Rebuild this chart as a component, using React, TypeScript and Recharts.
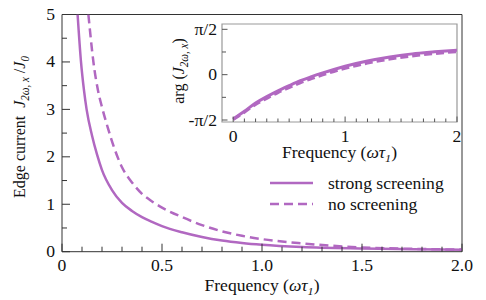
import React from 'react';
import { LineChart, Line, XAxis, YAxis, ReferenceArea } from 'recharts';

// main panel: edge current vs frequency
const strongX = [0.078, 0.095, 0.11, 0.123, 0.15, 0.175, 0.2, 0.25, 0.3, 0.35, 0.4, 0.45, 0.5, 0.6, 0.7, 0.8, 0.9, 1.0, 1.2, 1.5, 1.75, 2.0];
const strongY = [5.0, 4.0, 3.4, 3.0, 2.45, 2.05, 1.72, 1.3, 1.03, 0.86, 0.73, 0.63, 0.54, 0.41, 0.31, 0.235, 0.183, 0.145, 0.097, 0.066, 0.051, 0.041];
const noScrX = [0.132, 0.145, 0.157, 0.18, 0.203, 0.23, 0.26, 0.3, 0.35, 0.4, 0.45, 0.5, 0.6, 0.7, 0.8, 0.9, 1.0, 1.2, 1.35, 1.5, 1.75, 2.0];
const noScrY = [5.0, 4.45, 4.0, 3.4, 3.0, 2.6, 2.2, 1.78, 1.46, 1.22, 1.06, 0.93, 0.73, 0.56, 0.43, 0.335, 0.265, 0.175, 0.125, 0.09, 0.06, 0.045];

// inset: phase arg(J) vs frequency
const phaseX = [0, 0.1, 0.2, 0.3, 0.4, 0.5, 0.6, 0.7, 0.8, 0.9, 1.0, 1.2, 1.4, 1.6, 1.8, 2.0];
const phaseStrong = [-1.54, -1.27, -0.98, -0.76, -0.56, -0.38, -0.21, -0.07, 0.06, 0.18, 0.29, 0.47, 0.61, 0.72, 0.79, 0.85];
const phaseNoScr = [-1.55, -1.3, -1.03, -0.82, -0.62, -0.45, -0.28, -0.14, -0.01, 0.11, 0.22, 0.4, 0.54, 0.65, 0.73, 0.8];

const seriesNames = ['strong screening', 'no screening'];

const mainXMajor = [0, 0.5, 1, 1.5, 2];
const mainXLabels = ['0', '0.5', '1.0', '1.5', '2.0'];
const mainXMinor = [0.1, 0.2, 0.3, 0.4, 0.6, 0.7, 0.8, 0.9, 1.1, 1.2, 1.3, 1.4, 1.6, 1.7, 1.8, 1.9];
const mainYMajor = [0, 1, 2, 3, 4, 5];
const mainYLabels = ['0', '1', '2', '3', '4', '5'];
const mainYMinor = [0.5, 1.5, 2.5, 3.5, 4.5];

const insetXMajor = [0, 1, 2];
const insetXLabels = ['0', '1', '2'];
const insetXMinor = [0.1, 0.2, 0.3, 0.4, 0.5, 0.6, 0.7, 0.8, 0.9, 1.1, 1.2, 1.3, 1.4, 1.5, 1.6, 1.7, 1.8, 1.9];
const insetYMajor = [-Math.PI / 2, 0, Math.PI / 2];
const insetYLabels = ['-π/2', '0', 'π/2'];
const insetYMinor = [-Math.PI / 4, Math.PI / 4];

const zip = (xs: number[], ys: number[]) => xs.map((x, i) => ({ x, y: ys[i] }));

const PURPLE = '#b168c1';
const FONT = 'Liberation Serif, Times New Roman, serif';
const TEXT = '#111';
const SX = 1.1; // the original figure is a bit wider than tall, glyphs too

const near = (a: number, b: number) => Math.abs(a - b) < 1e-6;

const AxisTick = (props: any) => {
  const { x, y, payload, side, majors, labels, majorLen, minorLen, color, offset } = props;
  const i = majors.findIndex((m: number) => near(m, payload.value));
  const len = i >= 0 ? majorLen : minorLen;
  if (side === 'bottom') {
    return (
      <g>
        <line x1={x} x2={x} y1={y} y2={y - len} stroke={color} strokeWidth={1} />
        {i >= 0 && (
          <text transform={`translate(${x},${y + offset}) scale(${SX},1)`} textAnchor="middle" fontSize={16} fontFamily={FONT} fill={TEXT}>
            {labels[i]}
          </text>
        )}
      </g>
    );
  }
  return (
    <g>
      <line x1={x} x2={x + len} y1={y} y2={y} stroke={color} strokeWidth={1} />
      {i >= 0 && (
        <text transform={`translate(${x - offset},${y + 5.5}) scale(${SX},1)`} textAnchor="end" fontSize={16} fontFamily={FONT} fill={TEXT}>
          {labels[i]}
        </text>
      )}
    </g>
  );
};

const FreqLabel = ({ cx, y }: { cx: number; y: number }) => (
  <text transform={`translate(${cx},${y}) scale(${SX},1)`} textAnchor="middle" fontSize={16} fontFamily={FONT} fill={TEXT}>
    <tspan>Frequency (</tspan>
    <tspan fontStyle="italic">ωτ</tspan>
    <tspan fontStyle="italic" fontSize={11} dy={4}>1</tspan>
    <tspan dy={-4}>)</tspan>
  </text>
);

const MainYLabel = () => (
  <text transform={`translate(24.5,127) scale(${SX},1) rotate(-90)`} textAnchor="middle" fontSize={16} fontFamily={FONT} fill={TEXT}>
    <tspan>Edge current{'\u00a0\u00a0'}</tspan>
    <tspan fontStyle="italic">J</tspan>
    <tspan fontStyle="italic" fontSize={11} dy={4}>2ω, x</tspan>
    <tspan dy={-4}>{'\u00a0'}/</tspan>
    <tspan fontStyle="italic">J</tspan>
    <tspan fontStyle="italic" fontSize={11} dy={4}>0</tspan>
  </text>
);

const InsetYLabel = () => (
  <text transform={`translate(184,71) scale(${SX},1) rotate(-90)`} textAnchor="middle" fontSize={16} fontFamily={FONT} fill={TEXT}>
    <tspan>arg (</tspan>
    <tspan fontStyle="italic">J</tspan>
    <tspan fontStyle="italic" fontSize={11} dy={4}>2ω, x</tspan>
    <tspan dy={-4}>)</tspan>
  </text>
);

const LegendBox = () => (
  <svg width={200} height={50} style={{ display: 'block' }}>
    {seriesNames.map((name, i) => (
      <g key={name}>
        <line x1={5} x2={48} y1={13 + i * 21} y2={13 + i * 21} stroke={PURPLE} strokeWidth={2.5}
          strokeDasharray={i === 1 ? '9 5' : undefined} />
        <text transform={`translate(63,${18.5 + i * 21}) scale(${SX},1)`} fontSize={16} fontFamily={FONT} fill={TEXT}>{name}</text>
      </g>
    ))}
  </svg>
);

export default function App() {
  const mainTicksX = [...mainXMajor, ...mainXMinor].sort((a, b) => a - b);
  const mainTicksY = [...mainYMajor, ...mainYMinor].sort((a, b) => a - b);
  const insetTicksX = [...insetXMajor, ...insetXMinor].sort((a, b) => a - b);
  const insetTicksY = [...insetYMajor, ...insetYMinor].sort((a, b) => a - b);

  return (
    <div style={{ position: 'absolute', left: 0, top: 0, width: 486, height: 300, background: '#fff', fontFamily: FONT }}>
      <div style={{ position: 'absolute', left: 0, top: 0 }}>
        <LineChart width={486} height={300} margin={{ top: 14.5, right: 24, bottom: 0, left: 0 }}>
          <XAxis type="number" dataKey="x" domain={[0, 2]} allowDataOverflow height={48.3}
            ticks={mainTicksX} interval={0} tickSize={0} tickMargin={0} axisLine={false} tickLine={false}
            tick={<AxisTick side="bottom" majors={mainXMajor} labels={mainXLabels} majorLen={8} minorLen={5} color="#333" offset={19} />}
            label={{ content: () => <FreqLabel cx={262} y={291} /> }} />
          <YAxis type="number" domain={[0, 5]} allowDataOverflow width={62}
            ticks={mainTicksY} interval={0} tickSize={0} tickMargin={0} axisLine={false} tickLine={false}
            tick={<AxisTick side="left" majors={mainYMajor} labels={mainYLabels} majorLen={8} minorLen={5} color="#333" offset={7} />}
            label={{ content: () => <MainYLabel /> }} />
          <ReferenceArea x1={0} x2={2} y1={0} y2={5} fill="none" stroke="#333" strokeWidth={1} />
          <Line data={zip(strongX, strongY)} dataKey="y" name={seriesNames[0]} type="monotone" stroke={PURPLE}
            strokeWidth={2.5} dot={false} isAnimationActive={false} />
          <Line data={zip(noScrX, noScrY)} dataKey="y" name={seriesNames[1]} type="monotone" stroke={PURPLE}
            strokeWidth={2.5} strokeDasharray="9 5" dot={false} isAnimationActive={false} />
        </LineChart>
      </div>
      <div style={{ position: 'absolute', left: 0, top: 0 }}>
        <LineChart width={486} height={300} margin={{ top: 24, right: 29, bottom: 0, left: 0 }}>
          <XAxis type="number" dataKey="x" domain={[-0.1, 2]} allowDataOverflow height={178}
            ticks={insetTicksX} interval={0} tickSize={0} tickMargin={0} axisLine={false} tickLine={false}
            tick={<AxisTick side="bottom" majors={insetXMajor} labels={insetXLabels} majorLen={5.5} minorLen={3.5} color="#555" offset={19.5} />}
            label={{ content: () => <FreqLabel cx={339.5} y={157.5} /> }} />
          <YAxis type="number" domain={[-1.64, 1.755]} allowDataOverflow width={222}
            ticks={insetTicksY} interval={0} tickSize={0} tickMargin={0} axisLine={false} tickLine={false}
            tick={<AxisTick side="left" majors={insetYMajor} labels={insetYLabels} majorLen={5.5} minorLen={4} color="#555" offset={5} />}
            label={{ content: () => <InsetYLabel /> }} />
          <ReferenceArea x1={-0.1} x2={2} y1={-1.64} y2={1.755} fill="none" stroke="#999" strokeWidth={1.2} />
          <Line data={zip(phaseX, phaseNoScr)} dataKey="y" type="monotone" stroke={PURPLE}
            strokeWidth={3} strokeDasharray="8 4" dot={false} isAnimationActive={false} />
          <Line data={zip(phaseX, phaseStrong)} dataKey="y" type="monotone" stroke={PURPLE}
            strokeWidth={3} dot={false} isAnimationActive={false} />
        </LineChart>
      </div>
      <div style={{ position: 'absolute', left: 265, top: 170 }}>
        <LegendBox />
      </div>
    </div>
  );
}
